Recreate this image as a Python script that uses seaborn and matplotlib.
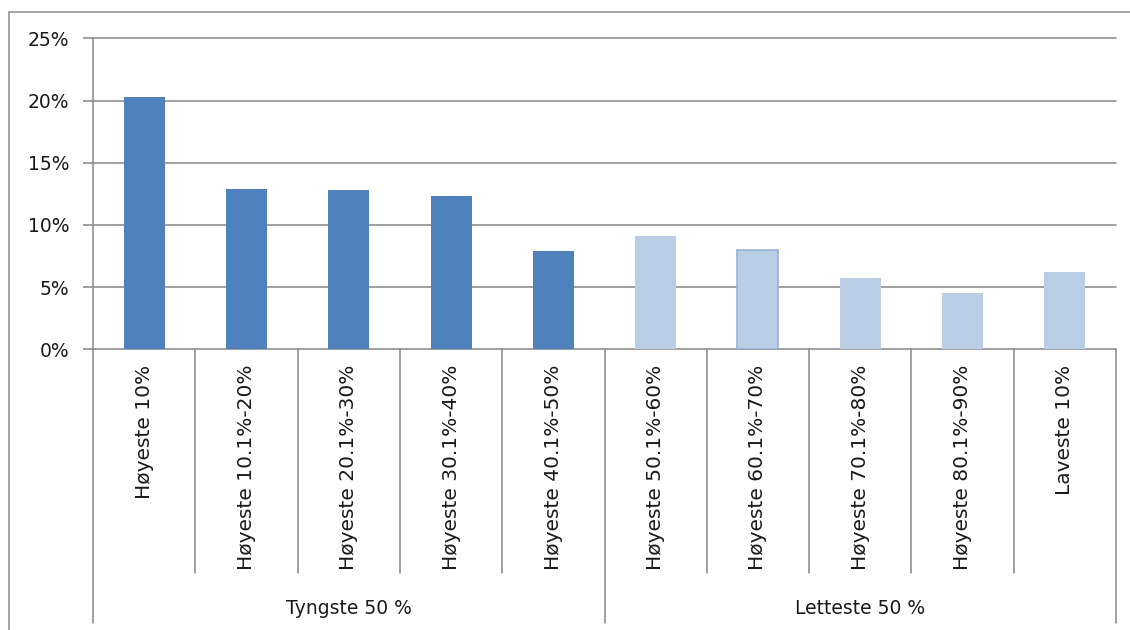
import matplotlib
matplotlib.use("Agg")
import matplotlib.pyplot as plt
import matplotlib.transforms as mtransforms
from matplotlib.lines import Line2D
import seaborn as sns
import pandas as pd

# Share of total per decile, in percent
categories = [
    "Høyeste 10%", "Høyeste 10.1%-20%", "Høyeste 20.1%-30%", "Høyeste 30.1%-40%",
    "Høyeste 40.1%-50%", "Høyeste 50.1%-60%", "Høyeste 60.1%-70%",
    "Høyeste 70.1%-80%", "Høyeste 80.1%-90%", "Laveste 10%",
]
values = [20.3, 12.9, 12.8, 12.3, 7.9, 9.1, 8.0, 5.7, 4.5, 6.2]
groups = ["Tyngste 50 %"] * 5 + ["Letteste 50 %"] * 5
group_names = ["Tyngste 50 %", "Letteste 50 %"]
y_ticks = [0, 5, 10, 15, 20, 25]

W, H = 1130, 630
GRID = "#868686"
TEXT = "#1a1a1a"
FONT = 13.5
CAT_FONT = 14.5

sns.set_theme(style="white")
plt.rcParams["font.family"] = ["DejaVu Sans"]

fig = plt.figure(figsize=(W / 100, H / 100), dpi=100)
# plot area in pixels: x 93..1116, y 38..349
x0, x1, ytop, ybot = 93, 1116, 38.3, 349.3
ax = fig.add_axes([x0 / W, 1 - ybot / H, (x1 - x0) / W, (ybot - ytop) / H])

df = pd.DataFrame({"kategori": categories, "andel": values, "gruppe": groups})
sns.barplot(
    data=df, x="kategori", y="andel", hue="gruppe", order=categories,
    hue_order=group_names,
    palette={"Tyngste 50 %": "#4F81BD", "Letteste 50 %": "#B9CDE5"},
    dodge=False, width=0.4, saturation=1, legend=False, ax=ax,
)
for p in ax.patches:
    p.set_linewidth(0)
    cx = p.get_x() + p.get_width() / 2
    if abs(cx - 6) < 0.3:
        p.set_edgecolor("#95B3D7")
        p.set_linewidth(1.2)

ax.set_xlim(-0.5, len(categories) - 0.5)
ax.set_ylim(0, 25)
ax.set_yticks(y_ticks)
ax.set_yticklabels([f"{t}%" for t in y_ticks])
ax.set_xlabel("")
ax.set_ylabel("")

for t in y_ticks:
    ax.axhline(t, color=GRID, lw=1.1, zorder=0.5, clip_on=False)

for side in ["top", "right", "bottom"]:
    ax.spines[side].set_visible(False)
ax.spines["left"].set_color(GRID)
ax.spines["left"].set_linewidth(1.1)

ax.tick_params(axis="y", which="major", left=True, length=7.2, width=1.1,
               color=GRID, pad=10, labelsize=FONT, labelcolor=TEXT)
ax.tick_params(axis="x", bottom=False, length=0, pad=11, labelsize=CAT_FONT,
               labelcolor=TEXT)
ax.set_xticks(range(len(categories)))
ax.set_xticklabels(categories, rotation=90, ha="center", va="top")

# category separators below the axis (x in data units, y in figure fraction)
blend = mtransforms.blended_transform_factory(ax.transData, fig.transFigure)
n = len(categories)
for i in range(n + 1):
    xb = i - 0.5
    end = 623 if i in (0, 5, n) else 573
    ax.add_line(Line2D([xb, xb], [1 - ybot / H, 1 - end / H], transform=blend,
                       color=GRID, lw=1.1, clip_on=False))

# group labels
for gi, name in enumerate(group_names):
    xc = gi * 5 + 2
    ax.text(xc, 1 - 614 / H, name, transform=blend, ha="center",
            va="baseline", fontsize=FONT, color=TEXT)

# chart frame
fig.add_artist(Line2D([9 / W, 1.0], [1 - 12 / H, 1 - 12 / H],
                      transform=fig.transFigure, color="#8c8c8c", lw=1.1))
fig.add_artist(Line2D([9 / W, 9 / W], [1 - 12 / H, 0.0],
                      transform=fig.transFigure, color="#8c8c8c", lw=1.1))

fig.savefig("out.png", dpi=100, facecolor="white")
